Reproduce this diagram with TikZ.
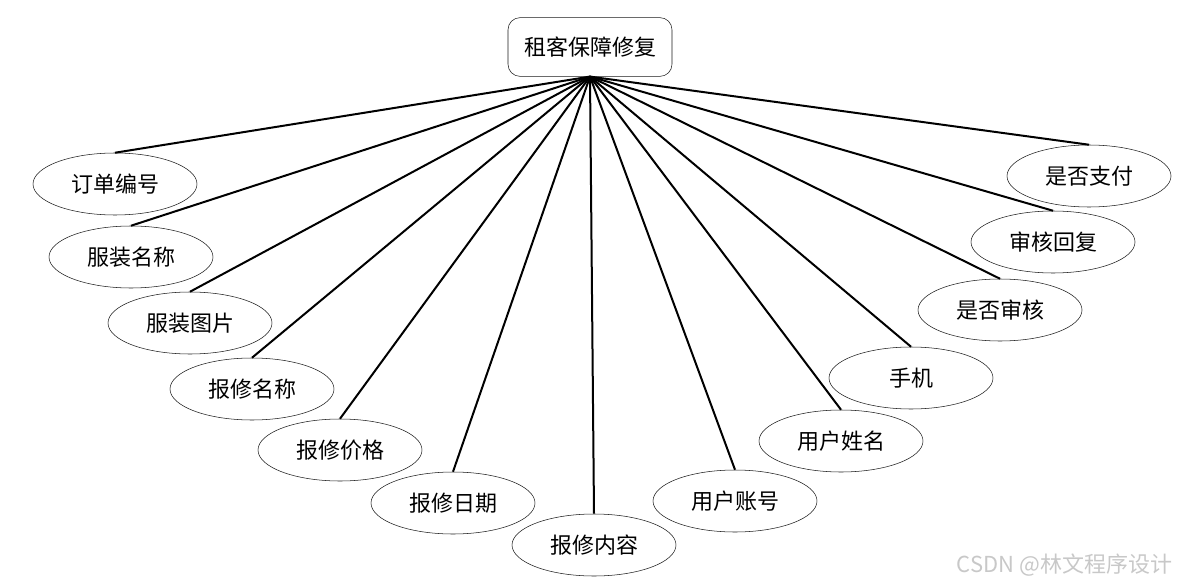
\documentclass[tikz,border=0pt]{standalone}
\usepackage{fontspec}
\setmainfont{Noto Sans CJK SC}
\usepackage{xcolor}
\usetikzlibrary{shapes.geometric}
\definecolor{ink}{HTML}{1A1A1A}
\definecolor{mark}{HTML}{C8C8C8}

\begin{document}
\begin{tikzpicture}[
  x=0.75pt,y=-0.75pt,
  root/.style={draw=ink,rounded corners=9pt,fill=white,align=center,minimum width=123pt,minimum height=44pt,font=\fontsize{16.5}{18}\selectfont},
  attr/.style={draw=ink,ellipse,fill=white,inner sep=0pt,minimum width=123pt,minimum height=46.5pt,font=\fontsize{16.5}{18}\selectfont},
  link/.style={line width=1.5pt,draw=black}
]
\useasboundingbox (0,0) rectangle (1181,585);
\node[root] (r) at (590,47) {租客保障修复};
\node[attr] (f1) at (115,184) {订单编号};
\node[attr] (f2) at (131,257) {服装名称};
\node[attr] (f3) at (190,323) {服装图片};
\node[attr] (f4) at (252,389) {报修名称};
\node[attr] (f5) at (340,450) {报修价格};
\node[attr] (f6) at (453,503) {报修日期};
\node[attr] (f7) at (594,545) {报修内容};
\node[attr] (f8) at (735,501) {用户账号};
\node[attr] (f9) at (841,441) {用户姓名};
\node[attr] (f10) at (911,378) {手机};
\node[attr] (f11) at (1000,310) {是否审核};
\node[attr] (f12) at (1053,242) {审核回复};
\node[attr] (f13) at (1089,176) {是否支付};
\foreach \k in {1,...,13}
  \draw[link] (r.south) -- (f\k.north);
\node[text=mark,anchor=east,font=\fontsize{16.5}{18}\selectfont] (wm) at (1177,565) {CSDN @林文程序设计};
\end{tikzpicture}
\end{document}
